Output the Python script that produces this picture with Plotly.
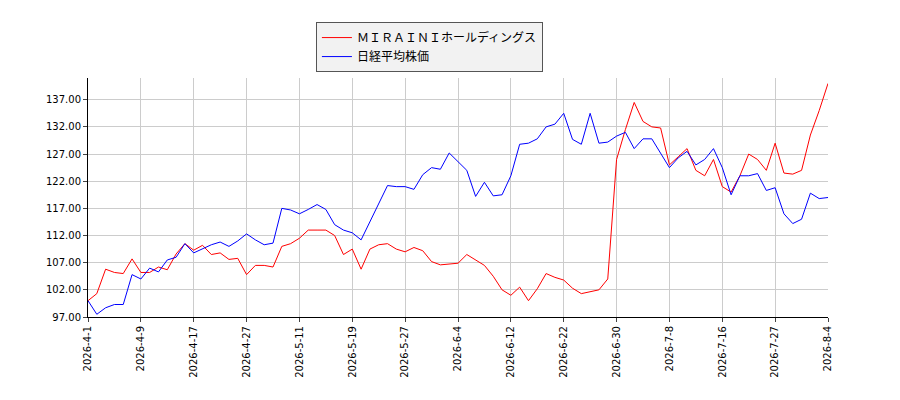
import plotly.graph_objects as go

tick_labels = ["2026-4-1","2026-4-9","2026-4-17","2026-4-27","2026-5-11","2026-5-19","2026-5-27",
               "2026-6-4","2026-6-12","2026-6-22","2026-6-30","2026-7-8","2026-7-16","2026-7-27","2026-8-4"]
red = [100.0,101.3,105.8,105.2,105.0,107.7,105.2,105.2,106.2,105.7,108.6,110.5,109.3,110.2,108.5,108.8,107.6,107.8,
       104.8,106.5,106.5,106.2,110.0,110.5,111.5,113.0,113.0,113.0,112.0,108.5,109.5,105.8,109.5,110.3,110.5,109.5,
       109.0,109.8,109.2,107.2,106.6,106.8,106.9,108.5,107.5,106.5,104.5,102.0,101.0,102.5,100.0,102.2,105.0,104.3,
       103.8,102.3,101.3,101.6,102.0,104.0,126.0,131.5,136.5,133.0,132.0,131.8,125.0,126.5,128.0,124.0,123.0,126.0,
       121.0,120.0,123.0,127.0,126.0,124.0,129.0,123.5,123.3,124.0,130.5,135.0,140.0]
blue = [100.0,97.5,98.7,99.3,99.3,104.8,104.0,106.0,105.3,107.5,108.0,110.5,108.8,109.5,110.3,110.8,110.0,111.0,
        112.3,111.2,110.3,110.6,117.0,116.7,116.0,116.8,117.7,116.8,114.0,113.0,112.5,111.2,114.5,117.8,121.2,121.0,
        121.0,120.5,123.2,124.5,124.2,127.2,125.6,124.0,119.2,121.8,119.3,119.5,123.0,128.8,129.0,129.8,132.0,132.5,
        134.5,129.7,128.8,134.5,129.0,129.2,130.3,131.0,128.0,129.8,129.8,127.2,124.5,126.3,127.5,125.0,126.0,128.0,
        124.5,119.5,123.0,123.0,123.4,120.3,120.8,116.0,114.2,115.0,119.8,118.8,119.0]
x = list(range(len(red)))
tickvals = list(range(0, len(red), 6))
yticks = [97 + 5*i for i in range(9)]

fig = go.Figure()
fig.add_trace(go.Scatter(x=x, y=red, mode="lines", line=dict(color="#ff0000", width=1), name="ＭＩＲＡＩＮＩホールディングス"))
fig.add_trace(go.Scatter(x=x, y=blue, mode="lines", line=dict(color="#0000ff", width=1), name="日経平均株価"))
fig.update_layout(
    width=900, height=400, margin=dict(l=80, r=80, t=70, b=91),
    paper_bgcolor="white", plot_bgcolor="white",
    font=dict(family="DejaVu Sans, Noto Sans CJK JP", size=10, color="black"),
    legend=dict(x=0.308, y=1.234, xanchor="left", yanchor="top",
                orientation="v", bordercolor="#555", borderwidth=1, bgcolor="#f2f2f2",
                font=dict(family="Noto Sans CJK JP", size=12), tracegroupgap=0),
    showlegend=True,
)
fig.update_xaxes(range=[0, len(red)-1], tickvals=tickvals, ticktext=tick_labels, tickangle=-90,
                 showgrid=True, gridcolor="#cccccc", showline=True, linecolor="black",
                 ticks="outside", ticklen=4, zeroline=False)
fig.update_yaxes(range=[97, 141], tickvals=yticks, ticktext=[f"{v:.2f}" for v in yticks],
                 showgrid=True, gridcolor="#cccccc", showline=True, linecolor="black",
                 ticks="outside", ticklen=4, zeroline=False)
fig.write_html("out.html")
